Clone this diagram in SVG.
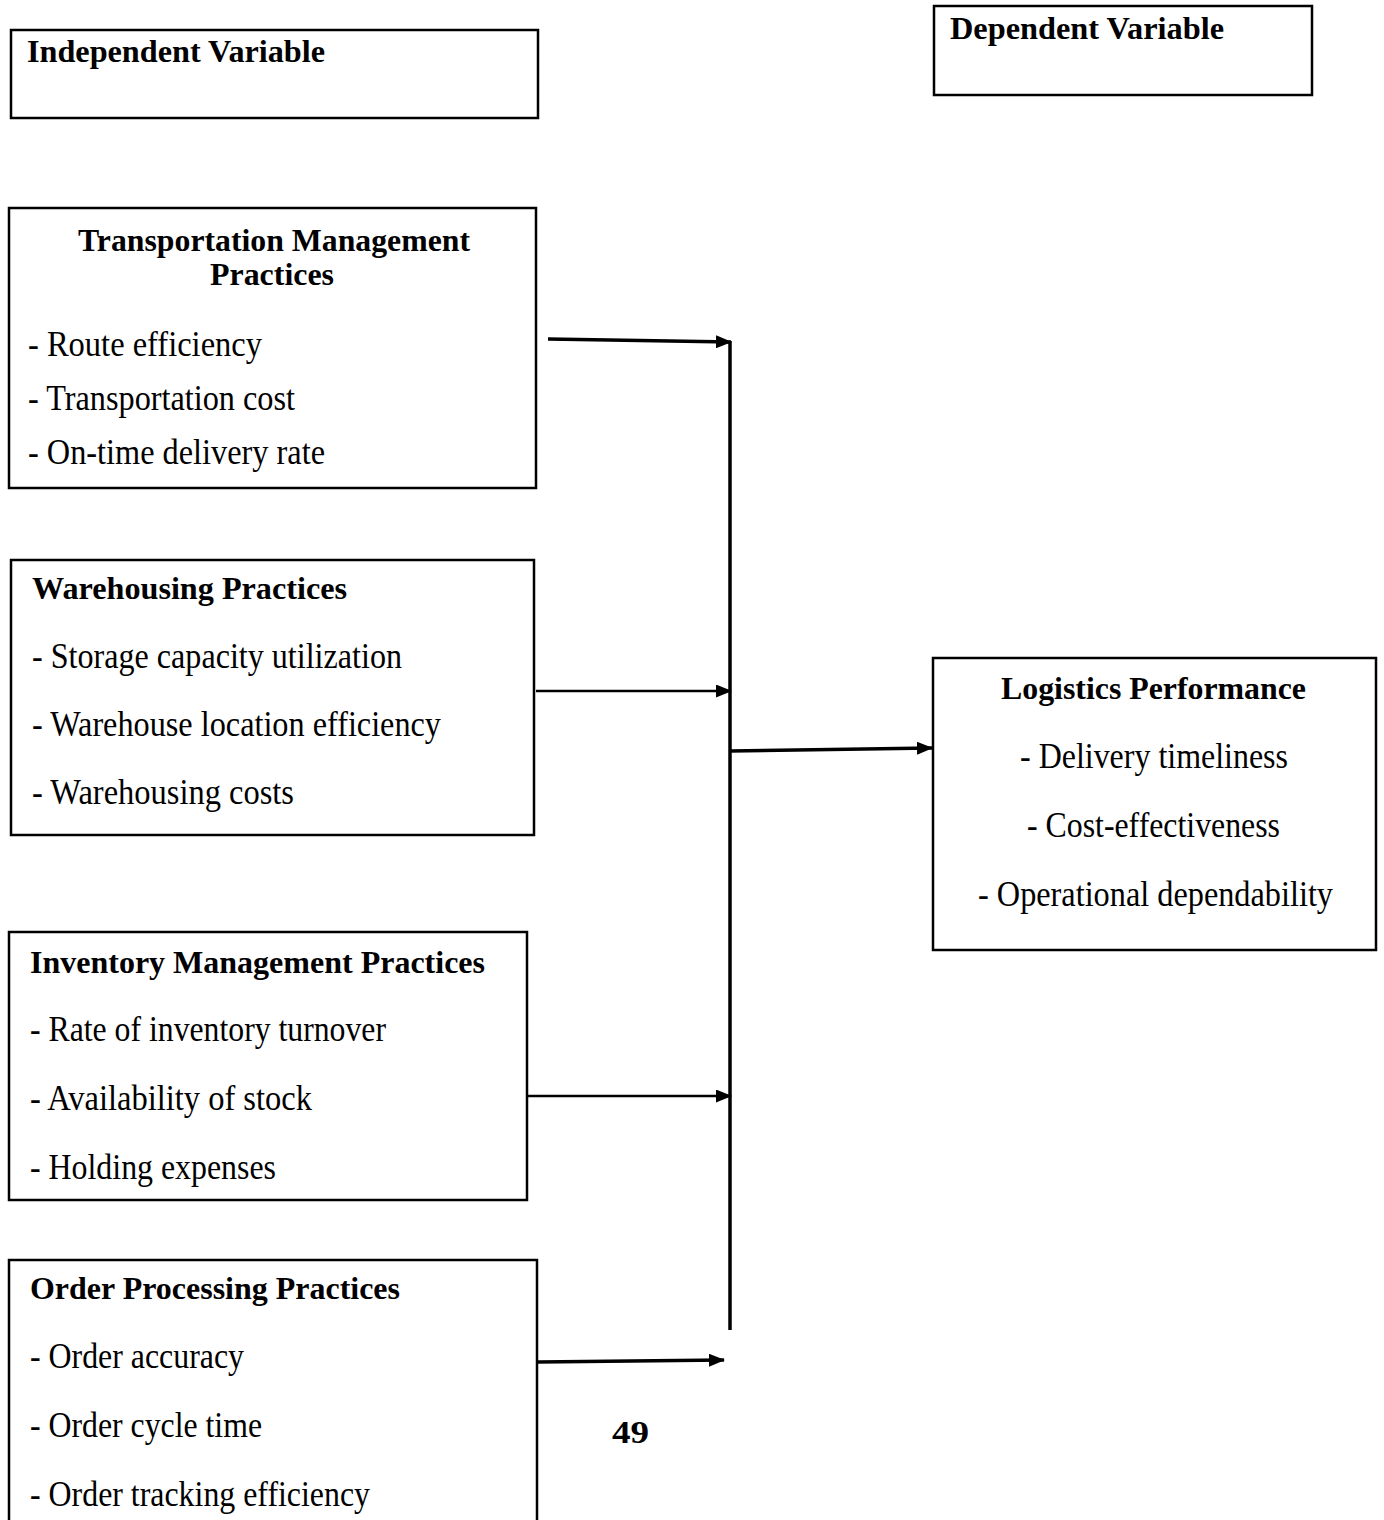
<svg xmlns="http://www.w3.org/2000/svg" width="1384" height="1520" viewBox="0 0 1384 1520">
<defs>
<style>
.box{fill:#fff;stroke:#000;stroke-width:2.5}
.t{font-family:"Liberation Serif","Times New Roman",serif;font-weight:bold;font-size:32px;fill:#000}
.i{font-family:"Liberation Serif","Times New Roman",serif;font-size:35px;fill:#000}
.c{fill:none;stroke:#000}
</style>
<marker id="ah" viewBox="0 0 16 13" refX="15" refY="6.5" markerWidth="16" markerHeight="13" markerUnits="userSpaceOnUse" orient="auto">
<path d="M0,0 L16,6.5 L0,13 Z" fill="#000"/>
</marker>
</defs>
<rect width="1384" height="1520" fill="#fff"/>

<g id="independent-label">
<rect class="box" x="11" y="30" width="527" height="88"/>
<text class="t" x="27" y="62" textLength="298" lengthAdjust="spacingAndGlyphs">Independent Variable</text>
</g>

<g id="dependent-label">
<rect class="box" x="934" y="6" width="378" height="89"/>
<text class="t" x="950" y="39" textLength="274" lengthAdjust="spacingAndGlyphs">Dependent Variable</text>
</g>

<g id="transportation">
<rect class="box" x="9" y="208" width="527" height="280"/>
<text class="t" x="78" y="251" textLength="392" lengthAdjust="spacingAndGlyphs">Transportation Management</text>
<text class="t" x="210" y="285" textLength="124" lengthAdjust="spacingAndGlyphs">Practices</text>
<text class="i" x="28" y="356" textLength="234" lengthAdjust="spacingAndGlyphs">- Route efficiency</text>
<text class="i" x="28" y="410" textLength="267" lengthAdjust="spacingAndGlyphs">- Transportation cost</text>
<text class="i" x="28" y="464" textLength="297" lengthAdjust="spacingAndGlyphs">- On-time delivery rate</text>
</g>

<g id="warehousing">
<rect class="box" x="11" y="560" width="523" height="275"/>
<text class="t" x="32" y="599" textLength="315" lengthAdjust="spacingAndGlyphs">Warehousing Practices</text>
<text class="i" x="32" y="668" textLength="370" lengthAdjust="spacingAndGlyphs">- Storage capacity utilization</text>
<text class="i" x="32" y="736" textLength="409" lengthAdjust="spacingAndGlyphs">-  Warehouse location efficiency</text>
<text class="i" x="32" y="804" textLength="262" lengthAdjust="spacingAndGlyphs">-  Warehousing costs</text>
</g>

<g id="logistics-performance">
<rect class="box" x="933" y="658" width="443" height="292"/>
<text class="t" x="1001" y="699" textLength="305" lengthAdjust="spacingAndGlyphs">Logistics Performance</text>
<text class="i" x="1020" y="768" textLength="268" lengthAdjust="spacingAndGlyphs">- Delivery timeliness</text>
<text class="i" x="1027" y="837" textLength="253" lengthAdjust="spacingAndGlyphs">- Cost-effectiveness</text>
<text class="i" x="978" y="906" textLength="355" lengthAdjust="spacingAndGlyphs">- Operational dependability</text>
</g>

<g id="inventory">
<rect class="box" x="9" y="932" width="518" height="268"/>
<text class="t" x="30" y="973" textLength="455" lengthAdjust="spacingAndGlyphs">Inventory  Management  Practices</text>
<text class="i" x="30" y="1041" textLength="356" lengthAdjust="spacingAndGlyphs">- Rate of inventory turnover</text>
<text class="i" x="30" y="1110" textLength="282" lengthAdjust="spacingAndGlyphs">- Availability of stock</text>
<text class="i" x="30" y="1179" textLength="246" lengthAdjust="spacingAndGlyphs">- Holding expenses</text>
</g>

<g id="order-processing">
<rect class="box" x="9" y="1260" width="528" height="280"/>
<text class="t" x="30" y="1299" textLength="370" lengthAdjust="spacingAndGlyphs">Order Processing Practices</text>
<text class="i" x="30" y="1368" textLength="214" lengthAdjust="spacingAndGlyphs">- Order accuracy</text>
<text class="i" x="30" y="1437" textLength="232" lengthAdjust="spacingAndGlyphs">- Order cycle time</text>
<text class="i" x="30" y="1506" textLength="340" lengthAdjust="spacingAndGlyphs">- Order tracking efficiency</text>
</g>

<g id="page-number">
<text class="t" x="612" y="1443" textLength="37" lengthAdjust="spacingAndGlyphs">49</text>
</g>

<g id="connectors">
<line class="c" x1="730" y1="341" x2="730" y2="1330" stroke-width="3.5"/>
<line class="c" x1="548" y1="339" x2="731" y2="342" stroke-width="3.5" marker-end="url(#ah)"/>
<line class="c" x1="536" y1="691" x2="731" y2="691" stroke-width="2.5" marker-end="url(#ah)"/>
<line class="c" x1="730" y1="751" x2="932" y2="748" stroke-width="3.5" marker-end="url(#ah)"/>
<line class="c" x1="527" y1="1096" x2="731" y2="1096" stroke-width="2.5" marker-end="url(#ah)"/>
<line class="c" x1="538" y1="1362" x2="724" y2="1360" stroke-width="3.5" marker-end="url(#ah)"/>
</g>
</svg>
